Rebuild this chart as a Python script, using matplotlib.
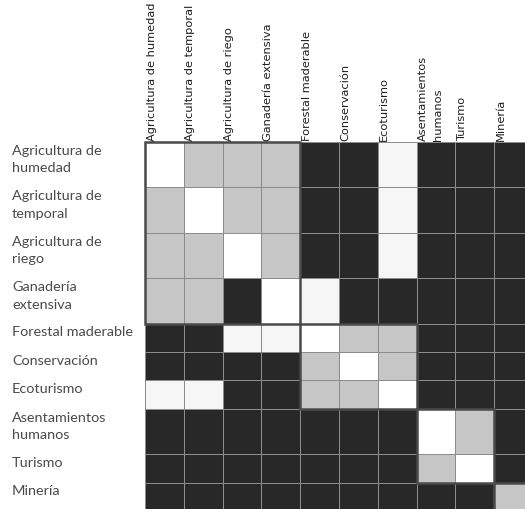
import numpy as np
import matplotlib.pyplot as plt
from matplotlib.colors import ListedColormap, BoundaryNorm
from matplotlib.patches import Rectangle

# land uses (rows and columns share the same order)
row_labels = ['Agricultura de\nhumedad', 'Agricultura de\ntemporal', 'Agricultura de\nriego',
              'Ganadería\nextensiva', 'Forestal maderable', 'Conservación', 'Ecoturismo',
              'Asentamientos\nhumanos', 'Turismo', 'Minería']
col_labels = ['Agricultura de humedad', 'Agricultura de temporal', 'Agricultura de riego',
              'Ganadería extensiva', 'Forestal maderable', 'Conservación', 'Ecoturismo',
              'Asentamientos\nhumanos', 'Turismo', 'Minería']

# 0 = same use, 1 = compatible, 2 = partly compatible, 3 = incompatible
compat = [
    [0, 2, 2, 2, 3, 3, 1, 3, 3, 3],
    [2, 0, 2, 2, 3, 3, 1, 3, 3, 3],
    [2, 2, 0, 2, 3, 3, 1, 3, 3, 3],
    [2, 2, 3, 0, 1, 3, 3, 3, 3, 3],
    [3, 3, 1, 1, 0, 2, 2, 3, 3, 3],
    [3, 3, 3, 3, 2, 0, 2, 3, 3, 3],
    [1, 1, 3, 3, 2, 2, 0, 3, 3, 3],
    [3, 3, 3, 3, 3, 3, 3, 0, 2, 3],
    [3, 3, 3, 3, 3, 3, 3, 2, 0, 3],
    [3, 3, 3, 3, 3, 3, 3, 3, 3, 2],
]

# groups outlined with a box (first index, last index)
groups = [(0, 3), (4, 6), (7, 8), (9, 9)]

Z = np.array(compat)
n = len(col_labels)

# two-line labels get taller rows
row_h = np.array([1.6 if '\n' in lab else 1.0 for lab in row_labels])
y_edges = np.concatenate([[0], np.cumsum(row_h)])
x_edges = np.arange(n + 1)

fig = plt.figure(figsize=(5.25, 5.09), dpi=100)
ax = fig.add_axes([145 / 525, -2 / 509, 388 / 525, 369 / 509])

cmap = ListedColormap(['#ffffff', '#f6f6f6', '#c6c6c6', '#282828'])
norm = BoundaryNorm([-0.5, 0.5, 1.5, 2.5, 3.5], cmap.N)
ax.pcolormesh(x_edges, y_edges, Z, cmap=cmap, norm=norm,
              edgecolors='#8c8c8c', linewidth=0.5)

for a, b in groups:
    ax.add_patch(Rectangle((x_edges[a], y_edges[a]), x_edges[b + 1] - x_edges[a],
                           y_edges[b + 1] - y_edges[a], fill=False,
                           edgecolor='#4a4a4a', lw=1.8, clip_on=False, zorder=3))

ax.set_xlim(0, n)
ax.set_ylim(y_edges[-1], 0)
ax.set_xticks([])
ax.set_yticks([])
for s in ax.spines.values():
    s.set_visible(False)

# column labels, rotated, sitting on top of the matrix
for i, lab in enumerate(col_labels):
    ax.annotate(lab, xy=(i + 0.04, 1.0), xycoords=('data', 'axes fraction'),
                xytext=(0, 1), textcoords='offset points', rotation=90,
                ha='left', va='bottom', fontsize=8.2, color='#1e1e1e',
                family=['Liberation Sans Narrow', 'DejaVu Sans'],
                linespacing=1.6, multialignment='left')

# row labels on the left
for j, lab in enumerate(row_labels):
    ax.annotate(lab, xy=(12 / 525, y_edges[j]), xycoords=('figure fraction', 'data'),
                xytext=(0, -2), textcoords='offset points',
                ha='left', va='top', fontsize=10.4, color='#4a4a4a',
                family=['Lato', 'DejaVu Sans'], linespacing=1.55)

fig.savefig('out.png', dpi=100)
